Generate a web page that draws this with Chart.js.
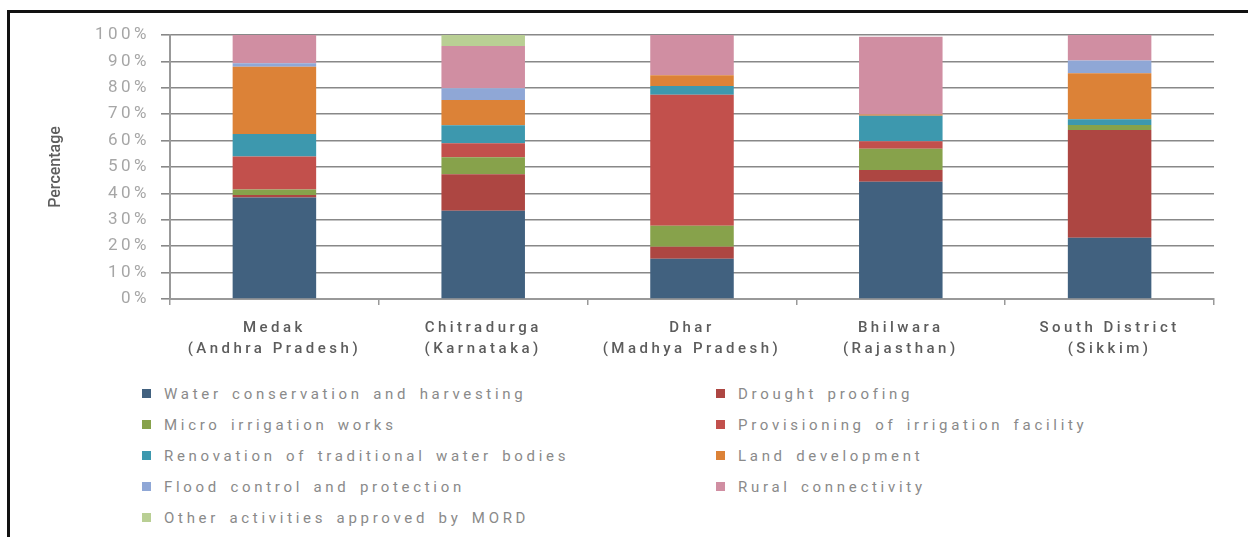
<!DOCTYPE html>
<html>
<head>
<meta charset="utf-8">
<script src="https://cdn.jsdelivr.net/npm/chart.js@4/dist/chart.umd.min.js"></script>
<style>
  html, body { margin: 0; padding: 0; background: #fff; }
  #wrap { position: relative; width: 1248px; height: 537px; overflow: hidden; font-family: Roboto, "DejaVu Sans", sans-serif; }
  #chart { position: absolute; left: 0; top: 0; }
  #frame { position: absolute; left: 7px; top: 10px; width: 1240px; height: 540px;
    border-left: 3px solid #111; border-top: 3px solid #111; border-right: 1px solid #c8c8c8; pointer-events: none; }
  #legend { position: absolute; left: 142px; top: 378px; display: grid;
    grid-template-columns: 574px 480px; grid-auto-rows: 31px; }
  #legend .item { display: flex; align-items: center; font-size: 15px; color: #8a8a8a;
    letter-spacing: 3.7px; word-spacing: 3px; white-space: nowrap; }
  #legend .box { width: 9px; height: 9px; margin-right: 13px; flex: none; }
</style>
</head>
<body>
<div id="wrap">
  <canvas id="chart" width="1248" height="375"></canvas>
  <div id="legend"></div>
  <div id="frame"></div>
</div>
<script>
var districts = [
  ['Medak', '(Andhra Pradesh)'],
  ['Chitradurga', '(Karnataka)'],
  ['Dhar', '(Madhya Pradesh)'],
  ['Bhilwara', '(Rajasthan)'],
  ['South District', '(Sikkim)']
];
var yTicks = [0, 10, 20, 30, 40, 50, 60, 70, 80, 90, 100];

// share of works per district (%)
var waterConservation = [38.4, 33.4, 15.2, 44.4, 23.2];
var droughtProofing   = [1.0, 13.9, 4.6, 4.5, 40.8];
var microIrrigation   = [2.1, 6.4, 7.9, 8.0, 1.9];
var provisioning      = [12.5, 5.3, 49.7, 2.9, 0];
var renovation        = [8.5, 6.8, 3.3, 9.6, 2.2];
var landDevelopment   = [25.5, 9.6, 4.1, 0.5, 17.4];
var floodControl      = [1.3, 4.4, 0, 0, 4.8];
var ruralConnectivity = [10.7, 16.0, 15.2, 29.4, 9.7];
var otherActivities   = [0, 4.2, 0, 0, 0];

var BLUE = '#41617f', DARKRED = '#ad4642', GREEN = '#87a24b', RED = '#c2504c', TEAL = '#3d98ae',
    ORANGE = '#dc8237', LBLUE = '#8fa7d6', PINK = '#d08ea2', LGREEN = '#b9cf94';

var series = [
  { label: 'Water conservation and harvesting', data: waterConservation, color: BLUE },
  { label: 'Drought proofing', data: droughtProofing, color: DARKRED },
  { label: 'Micro irrigation works', data: microIrrigation, color: GREEN },
  { label: 'Provisioning of irrigation facility', data: provisioning, color: RED },
  { label: 'Renovation of traditional water bodies', data: renovation, color: TEAL },
  { label: 'Land development', data: landDevelopment, color: ORANGE },
  { label: 'Flood control and protection', data: floodControl, color: LBLUE },
  { label: 'Rural connectivity', data: ruralConnectivity, color: PINK },
  { label: 'Other activities approved by MORD', data: otherActivities, color: LGREEN }
];

// tracked-out lettering for tick labels (drawn after the bars)
var spacing = {
  id: 'spacing',
  afterDatasetsDraw: function (c) { c.ctx.letterSpacing = '3.5px'; },
  afterDraw: function (c) { c.ctx.letterSpacing = '0px'; }
};

var chart = new Chart(document.getElementById('chart').getContext('2d'), {
  type: 'bar',
  data: {
    labels: districts,
    datasets: series.map(function (s) {
      return { label: s.label, data: s.data, backgroundColor: s.color, borderWidth: 0,
        barPercentage: 0.4, categoryPercentage: 1.0 };
    })
  },
  options: {
    responsive: false,
    animation: false,
    layout: { padding: { left: 0, top: 35, right: 34, bottom: 0 } },
    plugins: { legend: { display: false }, tooltip: { enabled: false } },
    scales: {
      x: {
        stacked: true,
        grid: { drawOnChartArea: false, tickLength: 6, color: '#999', lineWidth: 1.5 },
        border: { color: '#999', width: 2 },
        ticks: { z: 1, color: '#5c5c5c', padding: 13, font: { family: 'Roboto', size: 15, weight: '500', lineHeight: 1.4 } },
        afterFit: function (s) { s.height = 76; }
      },
      y: {
        stacked: true,
        min: 0, max: 100,
        afterBuildTicks: function (s) { s.ticks = yTicks.map(function (v) { return { value: v }; }); },
        grid: { color: '#888', lineWidth: 1.6, tickLength: 9 },
        border: { color: '#999', width: 2 },
        ticks: { z: 1, color: '#a6a6a6', padding: 11, font: { family: 'Roboto', size: 17 },
          callback: function (v) { return v + '%'; } },
        title: { display: true, text: 'Percentage', color: '#5e5e5e', padding: { top: 46, bottom: 0 },
          font: { family: 'Roboto', size: 16, weight: '500' } },
        afterFit: function (s) { s.width = 170; }
      }
    }
  },
  plugins: [spacing]
});

// two-column legend built from the datasets
var legend = document.getElementById('legend');
chart.data.datasets.forEach(function (ds) {
  var item = document.createElement('div');
  item.className = 'item';
  var box = document.createElement('span');
  box.className = 'box';
  box.style.background = ds.backgroundColor;
  item.appendChild(box);
  item.appendChild(document.createTextNode(ds.label));
  legend.appendChild(item);
});
</script>
</body>
</html>
